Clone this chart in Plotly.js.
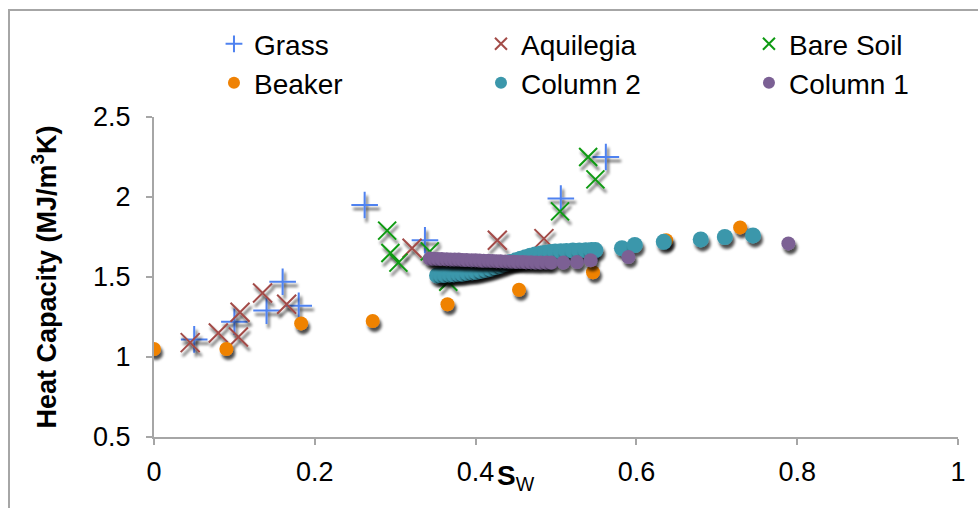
<!DOCTYPE html>
<html>
<head>
<meta charset="utf-8">
<script src="https://cdn.plot.ly/plotly-3.0.1.min.js"></script>
<style>
  html, body { margin: 0; padding: 0; background: #fff; }
  #wrap { position: relative; width: 978px; height: 508px; overflow: hidden; }
  #chart { width: 978px; height: 508px; }
  #frame { position: absolute; left: 8px; top: 9px; width: 2000px; height: 2000px;
           border-left: 2px solid #a6a6a6; border-top: 2px solid #a6a6a6; pointer-events: none; }
  .scatterlayer .point { filter: url(#ds); }
</style>
</head>
<body>
<svg width="0" height="0" style="position:absolute">
  <defs>
    <filter id="ds" x="-100%" y="-100%" width="300%" height="300%">
      <feGaussianBlur in="SourceAlpha" stdDeviation="1.8" result="b"/>
      <feOffset in="b" dx="1.5" dy="3.5" result="o"/>
      <feComponentTransfer in="o" result="s"><feFuncA type="linear" slope="0.7"/></feComponentTransfer>
      <feMerge><feMergeNode in="s"/><feMergeNode in="SourceGraphic"/></feMerge>
    </filter>
  </defs>
</svg>
<div id="wrap">
  <div id="chart"></div>
  <div id="frame"></div>
</div>
<script>
// ---- data ----
var grassX = [0.05, 0.10, 0.14, 0.16, 0.18, 0.262, 0.337, 0.506, 0.562];
var grassY = [1.11, 1.22, 1.29, 1.47, 1.32, 1.95, 1.73, 1.99, 2.25];

var aquiX = [0.045, 0.080, 0.105, 0.107, 0.135, 0.165, 0.321, 0.427, 0.485];
var aquiY = [1.09, 1.15, 1.125, 1.28, 1.40, 1.33, 1.68, 1.73, 1.74];

var soilX = [0.290, 0.294, 0.304, 0.343, 0.366, 0.505, 0.540, 0.549];
var soilY = [1.79, 1.65, 1.59, 1.66, 1.47, 1.91, 2.25, 2.11];

var beakerX = [0.0, 0.09, 0.183, 0.272, 0.365, 0.454, 0.546, 0.637, 0.729];
var beakerY = [1.05, 1.05, 1.21, 1.225, 1.33, 1.42, 1.53, 1.73, 1.81];

var col2X = [0.352, 0.357, 0.362, 0.368, 0.373, 0.379, 0.384, 0.390, 0.396, 0.401,
             0.407, 0.413, 0.419, 0.425, 0.431, 0.437, 0.443, 0.450, 0.456, 0.462,
             0.468, 0.474, 0.481, 0.487, 0.493, 0.499, 0.506, 0.513, 0.521, 0.529,
             0.537, 0.544, 0.549, 0.582, 0.598, 0.634, 0.680, 0.710, 0.745];
var col2Y = [1.510, 1.512, 1.513, 1.516, 1.517, 1.520, 1.522, 1.526, 1.529, 1.533,
             1.538, 1.545, 1.553, 1.562, 1.572, 1.583, 1.593, 1.604, 1.614, 1.624,
             1.633, 1.640, 1.647, 1.652, 1.656, 1.659, 1.661, 1.663, 1.665, 1.666,
             1.667, 1.668, 1.668, 1.680, 1.700, 1.720, 1.735, 1.750, 1.760];

var col1X = [0.343, 0.348, 0.353, 0.358, 0.364, 0.369, 0.374, 0.379, 0.384, 0.389,
             0.395, 0.400, 0.405, 0.410, 0.416, 0.421, 0.426, 0.431, 0.437, 0.442,
             0.447, 0.452, 0.458, 0.463, 0.469, 0.475, 0.481, 0.488, 0.494, 0.509,
             0.526, 0.543, 0.590, 0.789];
var col1Y = [1.615, 1.614, 1.613, 1.612, 1.611, 1.610, 1.609, 1.609, 1.607, 1.606,
             1.605, 1.604, 1.603, 1.602, 1.601, 1.600, 1.599, 1.598, 1.597, 1.596,
             1.595, 1.594, 1.593, 1.592, 1.592, 1.591, 1.590, 1.590, 1.590, 1.591,
             1.594, 1.605, 1.625, 1.710];

var xTicks = [0, 0.2, 0.4, 0.6, 0.8, 1];
var xTickText = ['0', '0.2', '0.4', '0.6', '0.8', '1'];
var yTicks = [0.5, 1, 1.5, 2, 2.5];
var yTickText = ['0.5', '1', '1.5', '2', '2.5'];

var FONT = 'Liberation Sans, Arial, sans-serif';
var GREEN = '#0e9a12';

var traces = [
  {name: 'Grass', legend: 'legend', x: grassX, y: grassY, type: 'scatter', mode: 'markers',
   marker: {symbol: 'cross-thin', size: 19, color: '#4f82f0', line: {color: '#4f82f0', width: 2}}},
  {name: 'Aquilegia', legend: 'legend2', x: aquiX, y: aquiY, type: 'scatter', mode: 'markers',
   marker: {symbol: 'x-thin', size: 19, color: '#a34c48', line: {color: '#a34c48', width: 2}}},
  {name: 'Bare Soil', legend: 'legend3', x: soilX, y: soilY, type: 'scatter', mode: 'markers',
   marker: {symbol: 'x-thin', size: 18, color: GREEN, line: {color: GREEN, width: 2}}},
  {name: 'Bare Soil', showlegend: false, x: soilX, y: soilY, type: 'scatter', mode: 'markers',
   marker: {symbol: 'line-ns', size: 22, color: GREEN, line: {color: GREEN, width: 2}}},
  {name: 'Beaker', legend: 'legend4', x: beakerX, y: beakerY, type: 'scatter', mode: 'markers',
   marker: {symbol: 'circle', size: 14, color: '#ef8205', line: {width: 0}}},
  {name: 'Column 2', legend: 'legend5', x: col2X, y: col2Y, type: 'scatter', mode: 'markers',
   marker: {symbol: 'circle', size: 16, color: '#3b97ab', line: {width: 0}}},
  {name: 'Column 1', legend: 'legend6', x: col1X, y: col1Y, type: 'scatter', mode: 'markers',
   marker: {symbol: 'circle', size: 14, color: '#7b6094', line: {width: 0}}}
];

function leg(x, y) {
  return {
    orientation: 'h', x: x, y: y, xanchor: 'left', yanchor: 'top',
    font: {family: FONT, size: 28, color: '#000'},
    bgcolor: 'rgba(0,0,0,0)', itemsizing: 'constant'
  };
}
var colX = [0.0746, 0.4067, 0.740];
var rowY = [1.306, 1.184];

var layout = {
  width: 978, height: 508,
  margin: {l: 154, r: 20, t: 117, b: 71, pad: 0},
  paper_bgcolor: '#ffffff', plot_bgcolor: '#ffffff',
  font: {family: FONT, size: 27, color: '#000'},
  showlegend: true,
  legend: leg(colX[0], rowY[0]),
  legend2: leg(colX[1], rowY[0]),
  legend3: leg(colX[2], rowY[0]),
  legend4: leg(colX[0], rowY[1]),
  legend5: leg(colX[1], rowY[1]),
  legend6: leg(colX[2], rowY[1]),
  xaxis: {
    range: [0, 1], tickvals: xTicks, ticktext: xTickText,
    showgrid: false, zeroline: false, showline: true, linecolor: '#a6a6a6', linewidth: 2,
    ticks: 'outside', ticklen: 6, tickwidth: 2, tickcolor: '#a6a6a6', ticklabelstandoff: 4,
    tickfont: {family: FONT, size: 27, color: '#000'}
  },
  yaxis: {
    range: [0.5, 2.5], tickvals: yTicks, ticktext: yTickText,
    showgrid: false, zeroline: false, showline: true, linecolor: '#a6a6a6', linewidth: 2,
    ticks: 'outside', ticklen: 6, tickwidth: 2, tickcolor: '#a6a6a6', ticklabelstandoff: 10,
    tickfont: {family: FONT, size: 27, color: '#000'},
    title: {text: '<b>Heat Capacity (MJ/m<sup>3</sup>K)</b>', standoff: 29,
            font: {family: FONT, size: 27, color: '#000'}}
  },
  annotations: [
    {text: '<b>S</b><sub>W</sub>', xref: 'x', yref: 'paper', x: 0.45, y: 1, yshift: -360,
     showarrow: false, xanchor: 'center', yanchor: 'middle',
     font: {family: FONT, size: 28, color: '#000'}}
  ]
};

Plotly.newPlot('chart', traces, layout, {displayModeBar: false, staticPlot: true});
</script>
</body>
</html>
